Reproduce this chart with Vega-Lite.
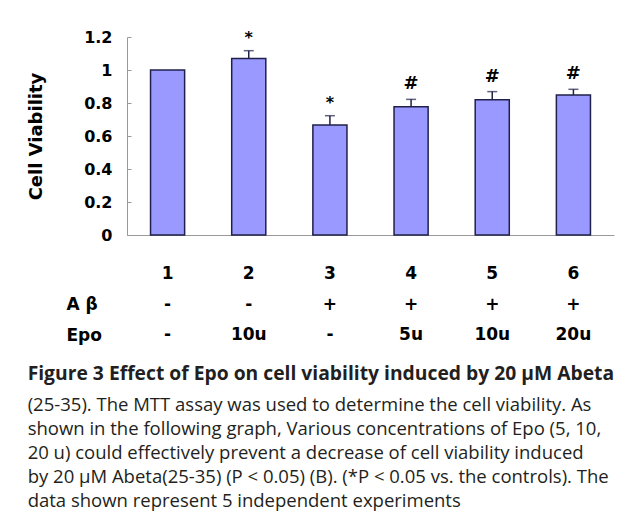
{
  "$schema": "https://vega.github.io/schema/vega-lite/v6.json",
  "padding": {"left": 27, "top": 29, "right": 2, "bottom": 5},
  "background": "white",
  "config": {
    "view": {"stroke": null},
    "font": "DejaVu Sans",
    "concat": {"spacing": 16},
    "axis": {"labelOverlap": false},
    "axisY": {"labelOverlap": false}
  },
  "title": {
    "text": "Figure 3 Effect of Epo on cell viability induced by 20 μM Abeta",
    "subtitle": [
      "(25-35). The MTT assay was used to determine the cell viability. As",
      "shown in the following graph, Various concentrations of Epo (5, 10,",
      "20 u) could effectively prevent a decrease of cell viability induced",
      "by 20 μM Abeta(25-35) (P < 0.05) (B). (*P < 0.05 vs. the controls). The",
      "data shown represent 5 independent experiments"
    ],
    "orient": "bottom",
    "anchor": "start",
    "frame": "bounds",
    "offset": 14,
    "font": "Open Sans",
    "fontSize": 19.3,
    "fontWeight": "bold",
    "color": "#231f20",
    "subtitleFont": "Open Sans",
    "subtitleFontSize": 18.5,
    "subtitleColor": "#231f20",
    "subtitleLineHeight": 24,
    "subtitlePadding": 12
  },
  "data": {
    "values": [
      {"group": "1", "value": 1.0, "upper": 1.0, "sig": "", "ab": "-", "epo": "-"},
      {"group": "2", "value": 1.069, "upper": 1.117, "sig": "*", "ab": "-", "epo": "10u"},
      {"group": "3", "value": 0.666, "upper": 0.723, "sig": "*", "ab": "+", "epo": "-"},
      {"group": "4", "value": 0.778, "upper": 0.822, "sig": "#", "ab": "+", "epo": "5u"},
      {"group": "5", "value": 0.82, "upper": 0.869, "sig": "#", "ab": "+", "epo": "10u"},
      {"group": "6", "value": 0.849, "upper": 0.883, "sig": "#", "ab": "+", "epo": "20u"}
    ]
  },
  "vconcat": [
    {
      "width": 487,
      "height": 198,
      "encoding": {
        "x": {
          "field": "group",
          "type": "nominal",
          "scale": {"paddingInner": 0.58, "paddingOuter": 0.29},
          "axis": {
            "title": null,
            "labels": false,
            "bandPosition": 0,
            "tickSize": -4,
            "tickColor": "#999999",
            "domainColor": "#999999",
            "grid": false
          }
        },
        "y": {
          "field": "value",
          "type": "quantitative",
          "scale": {"domain": [0, 1.2], "nice": false},
          "axis": {
            "title": "Cell Viability",
            "titleFont": "DejaVu Sans",
            "titleFontSize": 18,
            "titleFontWeight": "bold",
            "titleColor": "#000000",
            "titlePadding": 38,
            "values": [0, 0.2, 0.4, 0.6, 0.8, 1, 1.2],
            "format": "~g",
            "labelOverlap": false,
            "labelFont": "DejaVu Sans",
            "labelFontSize": 16,
            "labelFontWeight": "bold",
            "labelColor": "#000000",
            "labelPadding": 19,
            "tickSize": -4,
            "tickColor": "#999999",
            "domainColor": "#999999",
            "grid": false
          }
        }
      },
      "layer": [
        {
          "mark": {"type": "bar", "fill": "#9999ff", "stroke": "#20204a", "strokeWidth": 1.5}
        },
        {
          "transform": [{"filter": "datum.upper > datum.value"}],
          "mark": {"type": "rule", "color": "#20204a", "strokeWidth": 1.5},
          "encoding": {
            "y2": {"field": "upper"}
          }
        },
        {
          "transform": [{"filter": "datum.upper > datum.value"}],
          "mark": {"type": "tick", "color": "#20204a", "thickness": 1.5, "size": 10, "orient": "horizontal"},
          "encoding": {
            "y": {"field": "upper", "type": "quantitative"}
          }
        },
        {
          "transform": [{"filter": "datum.sig == '*'"}],
          "mark": {"type": "text", "font": "DejaVu Sans", "fontWeight": "bold", "fontSize": 16, "baseline": "alphabetic", "dy": -8, "color": "#000000"},
          "encoding": {
            "y": {"field": "upper", "type": "quantitative"},
            "text": {"field": "sig"}
          }
        },
        {
          "transform": [{"filter": "datum.sig == '#'"}],
          "mark": {"type": "text", "font": "DejaVu Sans", "fontWeight": "bold", "fontSize": 18, "baseline": "alphabetic", "dy": -10, "color": "#000000"},
          "encoding": {
            "y": {"field": "upper", "type": "quantitative"},
            "text": {"field": "sig"}
          }
        }
      ]
    },
    {
      "width": 487,
      "height": {"step": 30.5},
      "transform": [
        {"calculate": "datum.group", "as": "num"},
        {"fold": ["num", "ab", "epo"], "as": ["row", "label"]}
      ],
      "mark": {"type": "text", "font": "DejaVu Sans", "fontWeight": "bold", "fontSize": 17, "color": "#000000"},
      "encoding": {
        "x": {
          "field": "group",
          "type": "nominal",
          "scale": {"paddingInner": 0.58, "paddingOuter": 0.29},
          "axis": null
        },
        "y": {
          "field": "row",
          "type": "nominal",
          "sort": ["num", "ab", "epo"],
          "axis": {
            "title": null,
            "domain": false,
            "ticks": false,
            "labelAlign": "left",
            "labelPadding": 61,
            "labelFont": "DejaVu Sans",
            "labelFontSize": 17,
            "labelFontWeight": "bold",
            "labelColor": "#000000",
            "labelExpr": "datum.value == 'ab' ? 'A β' : datum.value == 'epo' ? 'Epo' : ''"
          }
        },
        "text": {"field": "label"}
      }
    }
  ]
}
